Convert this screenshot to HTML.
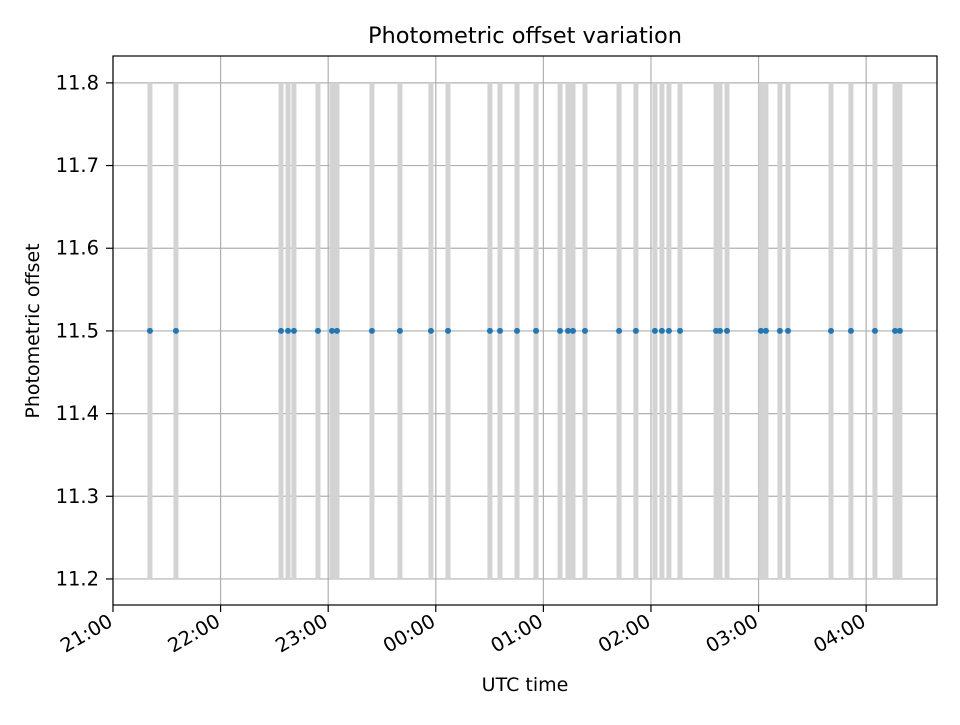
<!DOCTYPE html>
<html><head><meta charset="utf-8"><style>
body{margin:0;background:#fff}
text{font-family:"DejaVu Sans","Liberation Sans",sans-serif;fill:#000}
</style></head><body>
<svg id="chart" width="960" height="720" xmlns="http://www.w3.org/2000/svg">
<rect width="960" height="720" fill="#fff"/>
<g id="grid"></g><g id="bars"></g><g id="pts"></g>
<rect x="113" y="56" width="824" height="549" fill="none" stroke="#000" stroke-width="1.2"/>
<g id="axes"></g>
<text x="525" y="36" font-size="22.5" text-anchor="middle" dominant-baseline="central">Photometric offset variation</text>
<text x="525" y="685" font-size="19" text-anchor="middle" dominant-baseline="central">UTC time</text>
<text transform="translate(33,331) rotate(-90)" font-size="19" text-anchor="middle" dominant-baseline="central">Photometric offset</text>
</svg>
<script>
// minutes after 21:00 UTC
const times=[20.6,35.1,93.7,97.6,100.9,114.3,122.1,124.9,144.4,160.0,177.3,186.8,210.2,215.8,225.3,235.9,249.3,253.7,256.5,263.2,282.2,291.6,302.2,306.1,310.0,316.2,336.3,338.5,342.4,361.3,364.1,371.9,376.4,400.4,411.5,424.9,436.1,438.8];
const offsets=times.map(()=>11.5);
const lowErr=11.2, highErr=11.8;
const yTicks=[11.2,11.3,11.4,11.5,11.6,11.7,11.8];
const xTickLabels=["21:00","22:00","23:00","00:00","01:00","02:00","03:00","04:00"];
const X0=113,X1=937,Y0=605,Y1=56,xmin=0,xmax=459.5,ymin=11.1685,ymax=11.8325;
const sx=v=>X0+(v-xmin)/(xmax-xmin)*(X1-X0);
const sy=v=>Y0-(v-ymin)/(ymax-ymin)*(Y0-Y1);
const NS="http://www.w3.org/2000/svg";
function mk(t,p,a){const e=document.createElementNS(NS,t);for(const k in a)e.setAttribute(k,a[k]);document.getElementById(p).appendChild(e);return e;}
yTicks.forEach(v=>{const y=sy(v);
 const g=mk('line','grid',{x1:X0,x2:X1,y1:y,y2:y,stroke:'#b0b0b0','stroke-width':1.2});
 
 mk('line','axes',{x1:X0-7,x2:X0,y1:y,y2:y,stroke:'#000','stroke-width':1.2});
 const t=mk('text','axes',{x:X0-14,y:y,'font-size':19.5,'text-anchor':'end','dominant-baseline':'central'});t.textContent=v.toFixed(1);
 });
xTickLabels.forEach((l,i)=>{const x=sx(i*60);
 const g=mk('line','grid',{x1:x,x2:x,y1:Y1,y2:Y0,stroke:'#b0b0b0','stroke-width':1.2});
 
 mk('line','axes',{x1:x,x2:x,y1:Y0,y2:Y0+7,stroke:'#000','stroke-width':1.2});
 const t=mk('text','axes',{transform:`translate(${x+1},${Y0+20}) rotate(-30)`,'font-size':19.5,'text-anchor':'end'});t.textContent=l;
 });
times.forEach((tm,i)=>{const x=sx(tm);
 const b=mk('line','bars',{x1:x,x2:x,y1:sy(lowErr),y2:sy(highErr),stroke:'#d3d3d3','stroke-width':5});
 
 const c=mk('circle','pts',{cx:x,cy:sy(offsets[i]),r:3,fill:'#1f77b4'});
 });
</script>
</body></html>
